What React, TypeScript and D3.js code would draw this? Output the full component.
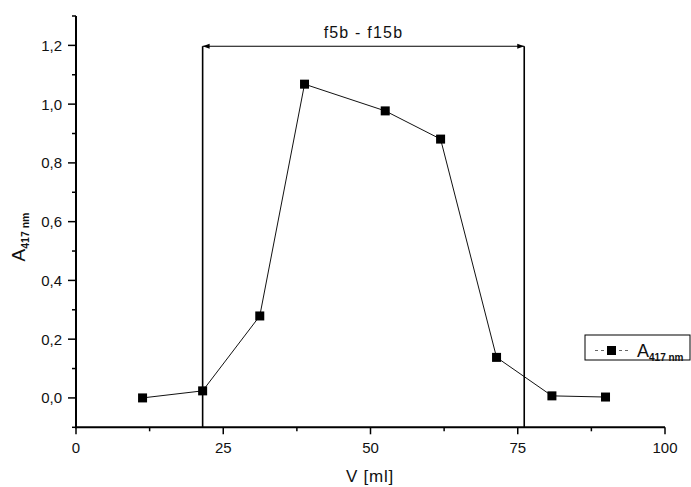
import React from "react";
import * as d3 from "d3";

const volumes = [11.3, 21.5, 31.2, 38.8, 52.5, 61.9, 71.4, 80.8, 89.9];
const absorbance = [0.0, 0.024, 0.279, 1.068, 0.977, 0.881, 0.138, 0.007, 0.003];
const xTicks = [0, 25, 50, 75, 100];
const xMinor = [12.5, 37.5, 62.5, 87.5];
const yTicks = [0, 0.2, 0.4, 0.6, 0.8, 1.0, 1.2];
const yMinor = [-0.1, 0.1, 0.3, 0.5, 0.7, 0.9, 1.1, 1.3];
const rangeStart = 21.5;
const rangeEnd = 76.1;
const rangeLevel = 1.197;
const rangeLabel = "f5b - f15b";

const W = 691;
const H = 487;
const FONT = "'Liberation Sans', Arial, sans-serif";

export default function App() {
  const x = d3.scaleLinear().domain([0, 100]).range([76, 665]);
  const y = d3.scaleLinear().domain([-0.1, 1.3]).range([427.3, 16]);
  const pts = volumes.map((v, i) => [x(v), y(absorbance[i])] as [number, number]);
  const line = d3.line()(pts) || "";
  const fmt = (v: number) => v.toFixed(1).replace(".", ",");
  const ms = 9;
  const x0 = x(0);
  const yBase = y(-0.1);
  const xa = x(rangeStart);
  const xb = x(rangeEnd);
  const yr = y(rangeLevel);

  return (
    <svg width={W} height={H} style={{ position: "absolute", left: 0, top: 0, background: "#fff" }} fontFamily={FONT} fill="#111">
      <rect x={0} y={0} width={W} height={H} fill="#fff" />
      {/* data line */}
      <path d={line} fill="none" stroke="#111" strokeWidth={1} />
      {/* range annotation */}
      <line x1={xa} x2={xa} y1={yr} y2={yBase} stroke="#000" strokeWidth={1.6} />
      <line x1={xb} x2={xb} y1={yr} y2={yBase} stroke="#000" strokeWidth={1.6} />
      <line x1={xa} x2={xb} y1={yr} y2={yr} stroke="#000" strokeWidth={1.2} />
      <path d={`M${xa},${yr} l7,-2.5 l0,5 z`} fill="#000" />
      <path d={`M${xb},${yr} l-7,-2.5 l0,5 z`} fill="#000" />
      <text x={(xa + xb) / 2} y={38} textAnchor="middle" fontSize={16} letterSpacing={1.2}>{rangeLabel}</text>
      {/* markers */}
      {pts.map(([px, py], i) => (
        <rect key={i} x={px - ms / 2} y={py - ms / 2} width={ms} height={ms} fill="#000" />
      ))}
      {/* y axis */}
      <line x1={x0} x2={x0} y1={y(1.3)} y2={yBase + 1} stroke="#000" strokeWidth={2} />
      {yTicks.map((t) => (
        <g key={t}>
          <line x1={x0 - 8} x2={x0} y1={y(t)} y2={y(t)} stroke="#000" strokeWidth={1.5} />
          <text x={62} y={y(t) + 5.5} textAnchor="end" fontSize={15}>{fmt(t)}</text>
        </g>
      ))}
      {yMinor.map((t) => (
        <line key={t} x1={x0 - 4} x2={x0} y1={y(t)} y2={y(t)} stroke="#000" strokeWidth={1.5} />
      ))}
      {/* x axis */}
      <line x1={x0 - 1} x2={x(100)} y1={yBase} y2={yBase} stroke="#000" strokeWidth={2} />
      {xTicks.map((t) => (
        <g key={t}>
          <line x1={x(t)} x2={x(t)} y1={yBase} y2={yBase + 7} stroke="#000" strokeWidth={1.5} />
          <text x={x(t)} y={453} textAnchor="middle" fontSize={15}>{t}</text>
        </g>
      ))}
      {xMinor.map((t) => (
        <line key={t} x1={x(t)} x2={x(t)} y1={yBase} y2={yBase + 4} stroke="#000" strokeWidth={1.5} />
      ))}
      {/* axis titles */}
      <text x={370} y={482} textAnchor="middle" fontSize={17} letterSpacing={0.8}>V [ml]</text>
      <g transform="translate(25,237) rotate(-90)">
        <text textAnchor="middle" fontSize={19}>
          A<tspan fontSize={10.5} dy={4} fontWeight="bold">417 nm</tspan>
        </text>
      </g>
      {/* legend */}
      <rect x={585} y={335} width={105} height={25} fill="#fff" stroke="#000" strokeWidth={1} />
      <line x1={595} x2={630} y1={350.5} y2={350.5} stroke="#666" strokeWidth={1} strokeDasharray="3,3" />
      <rect x={611.5 - ms / 2} y={350.5 - ms / 2} width={ms} height={ms} fill="#000" />
      <text x={637} y={357} fontSize={18}>
        A<tspan fontSize={10} dy={4} fontWeight="bold">417 nm</tspan>
      </text>
    </svg>
  );
}
